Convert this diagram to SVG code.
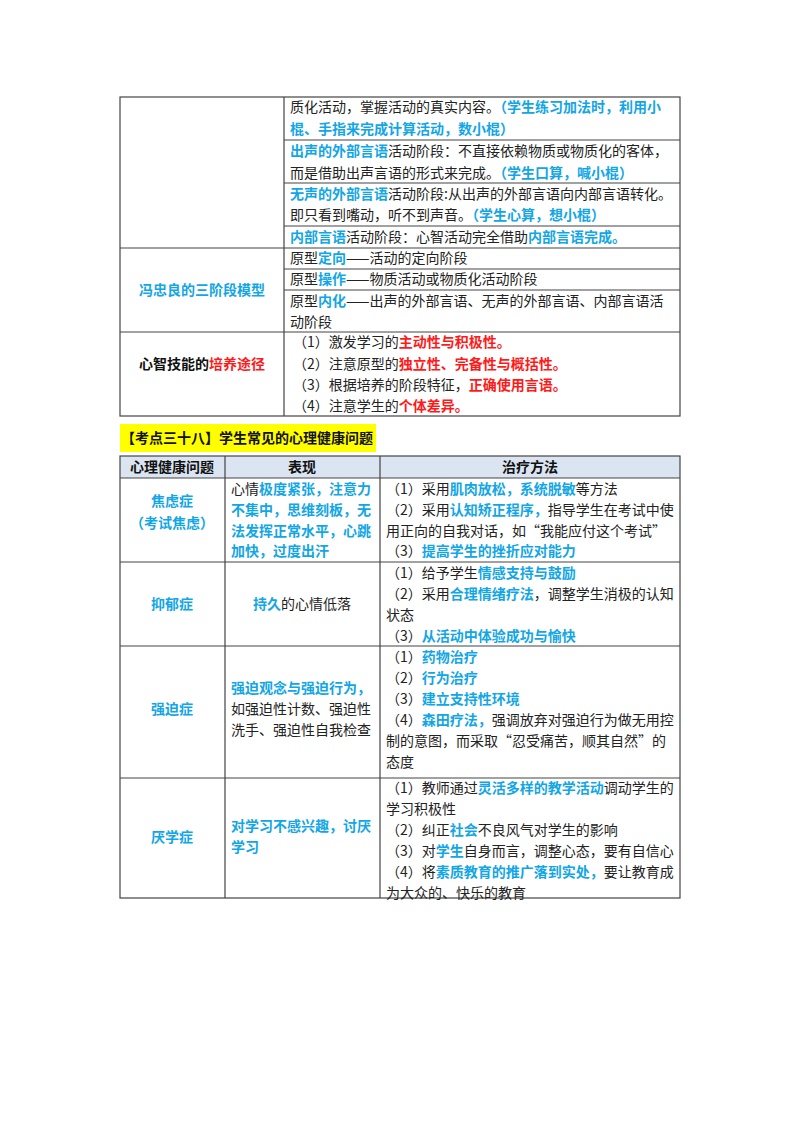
<svg xmlns="http://www.w3.org/2000/svg" width="800" height="1132" viewBox="0 0 800 1132">
<style>
text{font-family:"Noto Sans CJK SC","Noto Sans",sans-serif;font-size:14px;fill:#222}
.b{fill:#12a6e6;font-weight:bold}
.r{fill:#ff1a1a;font-weight:bold}
.k{font-weight:bold;fill:#111}
.c{text-anchor:middle}
.ln{stroke:#444;stroke-width:1.2;fill:none}
</style>
<rect width="800" height="1132" fill="#fff"/>
<g id="table1">
<rect class="ln" x="120" y="97" width="560" height="319"/>
<path class="ln" d="M284 97V416M284 140H680M284 183H680M284 226H680M120 248H680M284 269H680M284 290H680M120 332H680"/>
<text x="290" y="112">质化活动，掌握活动的真实内容。<tspan class="b">（学生练习加法时，利用小</tspan></text>
<text x="290" y="134" class="b">棍、手指来完成计算活动，数小棍）</text>
<text x="290" y="156"><tspan class="b">出声的外部言语</tspan>活动阶段：不直接依赖物质或物质化的客体，</text>
<text x="290" y="178">而是借助出声言语的形式来完成。<tspan class="b">（学生口算，喊小棍）</tspan></text>
<text x="290" y="199"><tspan class="b">无声的外部言语</tspan>活动阶段:从出声的外部言语向内部言语转化。</text>
<text x="290" y="220">即只看到嘴动，听不到声音。<tspan class="b">（学生心算，想小棍）</tspan></text>
<text x="290" y="242"><tspan class="b">内部言语</tspan>活动阶段：心智活动完全借助<tspan class="b">内部言语完成。</tspan></text>
<text x="202" y="295" class="c b">冯忠良的三阶段模型</text>
<text x="290" y="263">原型<tspan class="b">定向</tspan>——活动的定向阶段</text>
<text x="290" y="284">原型<tspan class="b">操作</tspan>——物质活动或物质化活动阶段</text>
<text x="290" y="306">原型<tspan class="b">内化</tspan>——出声的外部言语、无声的外部言语、内部言语活</text>
<text x="290" y="327">动阶段</text>
<text x="202" y="369" class="c k">心智技能的<tspan class="r">培养途径</tspan></text>
<text x="293" y="347">（1）激发学习的<tspan class="r">主动性与积极性。</tspan></text>
<text x="293" y="369">（2）注意原型的<tspan class="r">独立性、完备性与概括性。</tspan></text>
<text x="293" y="390">（3）根据培养的阶段特征，<tspan class="r">正确使用言语。</tspan></text>
<text x="293" y="411">（4）注意学生的<tspan class="r">个体差异。</tspan></text>
</g>
<g id="heading">
<rect x="120" y="424" width="256" height="28" fill="#ffff00"/>
<text x="121" y="443" class="k">【考点三十八】学生常见的心理健康问题</text>
</g>
<g id="table2">
<rect x="120" y="456" width="560" height="22" fill="#dbe5f1"/>
<rect class="ln" x="120" y="456" width="560" height="442"/>
<path class="ln" d="M225 456V898M380 456V898M120 478H680M120 562H680M120 646H680M120 778H680"/>
<text x="172" y="472" class="c k">心理健康问题</text>
<text x="302" y="472" class="c k">表现</text>
<text x="530" y="472" class="c k">治疗方法</text>
<text x="172" y="506" class="c b">焦虑症</text>
<text x="172" y="528" class="c b">（考试焦虑）</text>
<text x="231" y="494">心情<tspan class="b">极度紧张，注意力</tspan></text>
<text x="231" y="515" class="b">不集中，思维刻板，无</text>
<text x="231" y="536" class="b">法发挥正常水平，心跳</text>
<text x="231" y="556" class="b">加快，过度出汗</text>
<text x="386" y="494">（1）采用<tspan class="b">肌肉放松，系统脱敏</tspan>等方法</text>
<text x="386" y="515">（2）采用<tspan class="b">认知矫正程序，</tspan>指导学生在考试中使</text>
<text x="386" y="536">用正向的自我对话，如“我能应付这个考试”</text>
<text x="386" y="556">（3）<tspan class="b">提高学生的挫折应对能力</tspan></text>
<text x="172" y="609" class="c b">抑郁症</text>
<text x="302" y="609" class="c"><tspan class="b">持久</tspan>的心情低落</text>
<text x="386" y="578">（1）给予学生<tspan class="b">情感支持与鼓励</tspan></text>
<text x="386" y="599">（2）采用<tspan class="b">合理情绪疗法</tspan>，调整学生消极的认知</text>
<text x="386" y="620">状态</text>
<text x="386" y="641">（3）<tspan class="b">从活动中体验成功与愉快</tspan></text>
<text x="172" y="714" class="c b">强迫症</text>
<text x="231" y="693" class="b">强迫观念与强迫行为，</text>
<text x="231" y="714">如强迫性计数、强迫性</text>
<text x="231" y="735">洗手、强迫性自我检查</text>
<text x="386" y="662">（1）<tspan class="b">药物治疗</tspan></text>
<text x="386" y="683">（2）<tspan class="b">行为治疗</tspan></text>
<text x="386" y="704">（3）<tspan class="b">建立支持性环境</tspan></text>
<text x="386" y="725">（4）<tspan class="b">森田疗法，</tspan>强调放弃对强迫行为做无用控</text>
<text x="386" y="746">制的意图，而采取“忍受痛苦，顺其自然”的</text>
<text x="386" y="767">态度</text>
<text x="172" y="842" class="c b">厌学症</text>
<text x="231" y="831" class="b">对学习不感兴趣，讨厌</text>
<text x="231" y="852" class="b">学习</text>
<text x="386" y="793">（1）教师通过<tspan class="b">灵活多样的教学活动</tspan>调动学生的</text>
<text x="386" y="814">学习积极性</text>
<text x="386" y="835">（2）纠正<tspan class="b">社会</tspan>不良风气对学生的影响</text>
<text x="386" y="856">（3）对<tspan class="b">学生</tspan>自身而言，调整心态，要有自信心</text>
<text x="386" y="877">（4）将<tspan class="b">素质教育的推广落到实处，</tspan>要让教育成</text>
<text x="386" y="898">为大众的、快乐的教育</text>
</g>
</svg>
